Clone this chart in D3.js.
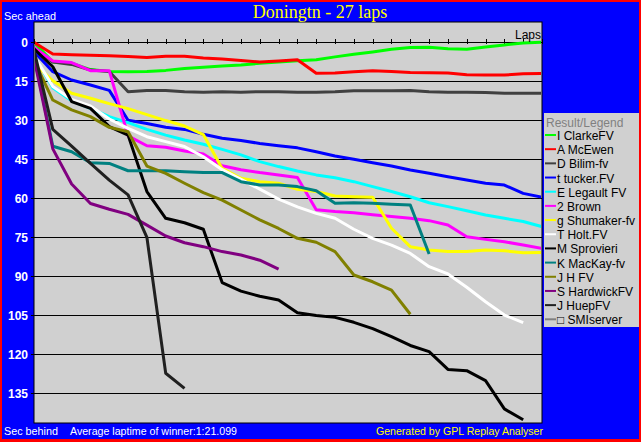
<!DOCTYPE html>
<html><head><meta charset="utf-8">
<script src="https://cdn.jsdelivr.net/npm/d3@7/dist/d3.min.js"></script>
<style>body{margin:0;background:#0000ff}svg{display:block}</style>
</head><body><svg id="c" width="641" height="442"></svg>
<script>
// ---- data (seconds behind the leader, per lap 0..n) ----
const driverNames = ["I ClarkeFV","A McEwen","D Bilim-fv","t tucker.FV","E Legault FV","2 Brown","g Shumaker-fv","T Holt.FV","M Sprovieri","K MacKay-fv","J H FV","S HardwickFV","J HuepFV","\u25A1 SMIserver"];
const driverColors = ["#00ff00","#ff0000","#404040","#0000ff","#00ffff","#ff00ff","#ffff00","#ffffff","#000000","#008080","#808000","#800080","#202020","#808080"];
const clarke   = [0,7.6,8.0,10.5,11.2,11.3,11.2,10.8,10.1,9.6,9.1,8.7,8.1,7.6,7.1,6.7,5.6,4.6,3.7,2.7,2.0,1.9,2.5,2.7,1.8,1.0,0.3,0];
const mcewen   = [0,4.5,4.8,5.0,5.2,5.5,5.8,5.4,5.4,6.0,6.4,7.0,7.6,7.2,6.7,11.9,11.8,11.3,10.9,11.2,11.6,11.7,11.8,12.5,12.6,12.6,12.1,12.0];
const bilim    = [2,7.6,8.5,10.7,11.2,19.0,18.5,18.5,19.0,19.2,19.0,19.2,19.0,19.0,19.2,19.2,19.0,18.6,18.6,18.6,18.5,19.0,19.2,19.2,19.3,19.6,19.6,19.6];
const tucker   = [3.5,11.3,14.5,16.4,18.5,30.0,31.2,32.7,33.5,35.4,36.9,37.8,38.9,39.8,40.6,42.1,43.7,45.0,46.3,47.6,49.1,50.4,51.7,53.0,54.2,54.9,58.1,59.6];
const legault  = [5,17.5,22.5,25.4,28.6,30.9,33.5,35.7,37.6,39.2,41.2,43.3,45.9,47.8,49.5,51.0,52.1,53.6,55.5,57.4,59.4,61.7,63.2,64.8,66.4,67.7,68.9,70.9];
const brown    = [2,7.2,7.8,10.9,10.9,36.0,39.8,40.4,41.8,43.0,47.5,49.0,50.1,51.0,52.0,64.4,65.1,65.6,66.3,67.0,67.7,68.6,70.3,74.8,75.8,76.7,78.0,79.3];
const shumaker = [8,14.8,19.6,21.5,23.6,25.5,27.8,30.1,32.2,35.5,48.5,52.3,53.6,54.2,56.5,57.4,59.1,59.4,59.6,71.5,78.6,79.9,80.5,80.5,79.9,80.2,80.9,80.8];
const holt     = [5,17,22,24.5,29.5,33.1,36.3,38.2,40.1,44.0,49.0,52.7,56.5,60.3,63.3,65.8,67.7,71.9,75.4,78.0,81.2,86.3,89.1,94.2,99.8,104.9,107.8];
const sprovieri= [2.5,9.4,22.8,25.4,32.4,35.7,57.4,67.7,69.4,71.9,92.4,95.7,97.7,99.1,104.0,105.1,105.8,107.7,110.1,113.2,116.6,119.0,125.8,126.3,130.1,141.0,145.2];
const mackay   = [5,40,42.1,46.3,46.6,49.4,49.4,49.4,49.8,50.1,50.1,53.6,54.9,54.9,55.5,57.1,61.9,61.7,61.9,62.3,62.6,81.4];
const jhfv     = [7,22.2,26.0,28.6,32.7,34.4,47.6,50.4,54.2,57.8,60.7,64.5,68.3,71.6,75.4,76.9,80.5,89.5,92.1,95.3,104.6];
const hardwick = [6,41,54.5,62,64.2,66.2,70.3,74.5,77.1,78.6,80.5,81.8,83.8,87.2];
const huep     = [3,33.5,39.9,46.6,53,58.7,75,127.3,133.1];
const smiserver= [];
const seriesValues = [clarke,mcewen,bilim,tucker,legault,brown,shumaker,holt,sprovieri,mackay,jhfv,hardwick,huep,smiserver];
const yTickValues = [0,15,30,45,60,75,90,105,120,135];
const lapTickValues = d3.range(0,28);
const titleText = "Doningtn - 27 laps";
const legendTitle = "Result/Legend";
const footerLeft = "Sec behind";
const footerMid = "Average laptime of winner:1:21.099";
const footerRight = "Generated by GPL Replay Analyser";

// ---- drawing ----
const svg = d3.select("#c");
const W = 641, H = 442;
const plot = {l:34, r:542, t:22, b:423};
const x = d3.scaleLinear().domain([0,27]).range([plot.l, plot.r]);
const y = d3.scaleLinear().domain([0,135]).range([42.3, 393.3]);

svg.append("rect").attr("width",W).attr("height",H).attr("fill","#ff0000");
svg.append("rect").attr("x",2).attr("y",2).attr("width",637).attr("height",437).attr("fill","#0000ff");

svg.append("rect").attr("x",plot.l).attr("y",plot.t).attr("width",plot.r-plot.l).attr("height",plot.b-plot.t)
  .attr("fill","#d0d0d0").attr("stroke","#000").attr("stroke-width",1);

svg.append("defs").append("clipPath").attr("id","pc").append("rect")
  .attr("x",plot.l+1).attr("y",plot.t+1).attr("width",plot.r-plot.l-2).attr("height",plot.b-plot.t-2);

// y axis with grid lines
const yAxis = svg.append("g").attr("transform",`translate(31,0)`)
  .call(d3.axisLeft(y).tickValues(yTickValues).tickSize(-(plot.r-31)).tickPadding(3));
yAxis.select(".domain").remove();
yAxis.selectAll("line").attr("stroke","#000").attr("stroke-width",1).attr("shape-rendering","crispEdges");
yAxis.selectAll("text").attr("fill","#fff").style("font","bold 12px 'Liberation Sans', Arial, sans-serif");

// lap ticks on the zero line
const xAxis = svg.append("g").attr("transform",`translate(0,${y(0)-3})`)
  .call(d3.axisBottom(x).tickValues(lapTickValues).tickSize(5).tickFormat(""));
xAxis.select(".domain").remove();
xAxis.selectAll("line").attr("stroke","#000").attr("shape-rendering","crispEdges");

// lines
const line = d3.line().x((d,i)=>x(i)).y(d=>y(d));
const lg = svg.append("g").attr("clip-path","url(#pc)");
seriesValues.forEach((vals,k)=>{
  if(!vals.length) return;
  lg.append("path").datum(vals).attr("d",line).attr("fill","none")
    .attr("stroke",driverColors[k]).attr("stroke-width",3).attr("stroke-linejoin","round");
});

// texts
const sans = "'Liberation Sans', Arial, sans-serif";
svg.append("text").attr("x",320).attr("y",17.5).attr("text-anchor","middle").attr("fill","#ffff00")
  .style("font",`18px 'Liberation Serif', 'Times New Roman', serif`).text(titleText);
svg.append("text").attr("x",4).attr("y",20).attr("fill","#fff").style("font",`11px ${sans}`)
  .attr("textLength",52).attr("lengthAdjust","spacingAndGlyphs").text("Sec ahead");
svg.append("text").attr("x",541).attr("y",39).attr("text-anchor","end").attr("fill","#000")
  .style("font",`12px ${sans}`).text("Laps");
svg.append("text").attr("x",4).attr("y",435).attr("fill","#fff").style("font",`11px ${sans}`)
  .attr("textLength",54).attr("lengthAdjust","spacingAndGlyphs").text(footerLeft);
svg.append("text").attr("x",70).attr("y",435).attr("fill","#fff").style("font",`11px ${sans}`)
  .attr("textLength",167).attr("lengthAdjust","spacingAndGlyphs").text(footerMid);
svg.append("text").attr("x",376).attr("y",435).attr("fill","#ffff00").style("font",`11px ${sans}`)
  .attr("textLength",167).attr("lengthAdjust","spacingAndGlyphs").text(footerRight);

// legend
const leg = svg.append("g");
leg.append("rect").attr("x",544).attr("y",113).attr("width",95).attr("height",214).attr("fill","#d0d0d0");
leg.append("text").attr("x",546).attr("y",126.5).attr("fill","#808080").style("font",`12px ${sans}`).text(legendTitle);
const ly = d3.scaleLinear().domain([0,13]).range([135,319.3]);
driverNames.forEach((n,i)=>{
  const cy = ly(i);
  leg.append("line").attr("x1",545).attr("x2",556).attr("y1",cy).attr("y2",cy)
    .attr("stroke",driverColors[i]).attr("stroke-width",2);
  leg.append("text").attr("x",557).attr("y",cy+5).attr("fill","#000").style("font",`12px ${sans}`).text(n);
});
</script></body></html>
